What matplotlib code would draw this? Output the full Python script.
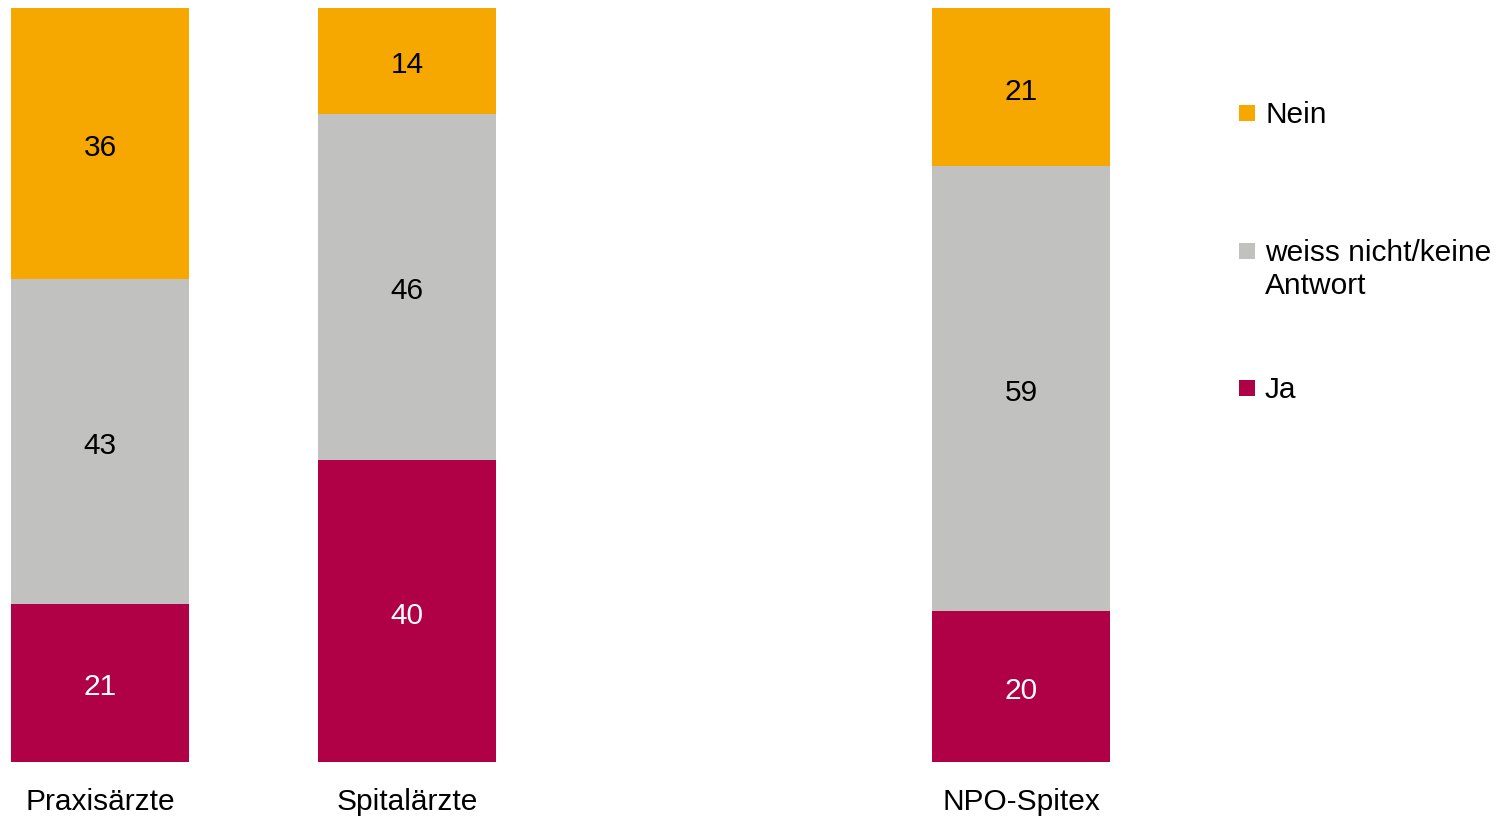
import numpy as np
import matplotlib.pyplot as plt
from matplotlib.patches import Rectangle

plt.rcParams['font.family'] = ['Liberation Sans', 'DejaVu Sans']

# categories sit on slots 0, 1 and 3 (slot 2 left empty)
categories = ['Praxisärzte', 'Spitalärzte', 'NPO-Spitex']
slots = [0, 1, 3]
ja = [21, 40, 20]
weiss = [43, 46, 59]
nein = [36, 14, 21]

series_names = ['Ja', 'weiss nicht/keine\nAntwort', 'Nein']
series_values = [ja, weiss, nein]
series_colors = ['#B00046', '#C1C1BF', '#F6A800']
text_colors = ['white', 'black', 'black']

W, H = 1496, 816
fig = plt.figure(figsize=(W / 100, H / 100), dpi=100)
ax = fig.add_axes([11 / W, 54 / H, 1099 / W, 754 / H])

bottom = np.zeros(len(categories))
for vals, col, tcol in zip(series_values, series_colors, text_colors):
    vals = np.array(vals, dtype=float)
    ax.bar(slots, vals, width=0.58, bottom=bottom, color=col, linewidth=0)
    for x, b, v in zip(slots, bottom, vals):
        ax.text(x, b + v / 2 - 0.2, f'{v:.0f}', ha='center', va='center_baseline',
                fontsize=21.5, color=tcol)
    bottom += vals

ax.set_xlim(-0.29, 3.29)
ax.set_ylim(0, 100)
ax.set_xticks(slots)
ax.set_xticklabels(categories, fontsize=21.5)
ax.tick_params(axis='x', length=0, pad=19)
ax.set_yticks([])
for s in ax.spines.values():
    s.set_visible(False)

# legend drawn by hand, top entry first
legend_rows = [('Nein', '#F6A800', 113), ('weiss nicht/keine\nAntwort', '#C1C1BF', 251),
               ('Ja', '#B00046', 388)]
for label, col, ypx in legend_rows:
    fig.patches.append(Rectangle((1239 / W, 1 - (ypx + 8) / H), 16 / W, 16 / H,
                                 transform=fig.transFigure, color=col, linewidth=0))
    fig.text(1265 / W, 1 - (ypx - 12) / H, label, fontsize=21.5, va='top', ha='left',
             linespacing=1.22)

fig.savefig('out.png', dpi=100)
